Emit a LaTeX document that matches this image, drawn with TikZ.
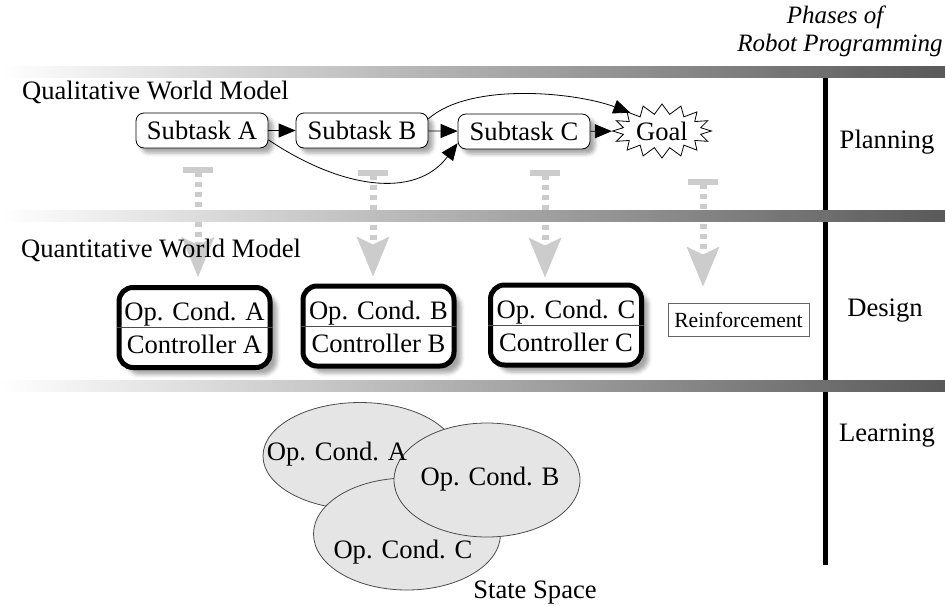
\documentclass[tikz,border=0pt]{standalone}
\usepackage{fontspec}
\setmainfont{Liberation Serif}
\usetikzlibrary{shapes,shapes.symbols,shadows.blur,arrows.meta}
\newcommand\figfont{\fontsize{13.3pt}{16pt}\selectfont}
\tikzset{subtask/.style={draw,fill=white,thin,rounded corners=4pt,minimum width=66pt,minimum height=17.5pt,inner sep=0pt,
    blur shadow={shadow xshift=2.5pt,shadow yshift=-2.5pt,shadow opacity=35}},
  opbox/.style={draw,fill=white,line width=2.5pt,rounded corners=7pt,minimum width=75.5pt,minimum height=40pt,
    blur shadow={shadow xshift=3.5pt,shadow yshift=-3.5pt,shadow opacity=35}},
  goal/.style={draw,fill=white,thin,starburst,starburst points=16,starburst point height=5pt,random starburst=0,
    inner sep=1pt,minimum width=43pt,minimum height=27pt},
  region/.style={draw=black!70,fill=gray!20,ellipse,thin},
  link/.style={thin,-{Triangle[length=8.5pt,width=7pt]}},
  refine/.style={draw=gray!40,line width=3.5pt,dash pattern=on 2.5pt off 2.5pt,
    {Bar[width=15pt,line width=3pt]}-{Stealth[length=20pt,width=16.5pt,inset=4pt,line width=0pt]}},
  phasebar/.style={shading=axis,left color=white,right color=black!65}}

\begin{document}
\begin{tikzpicture}[x=0.5pt,y=-0.5pt,font=\figfont]
\useasboundingbox (0,0) rectangle (945,605);
\draw[line width=2.5pt] (825,70) -- (825,565);

\node[subtask] (subA) at (202,130.5) {Subtask A};
\node[subtask] (subB) at (362,130.5) {Subtask B};
\node[subtask] (subC) at (524,131.5) {Subtask C};
\node[goal] (goal) at (662,131) {Goal};
\draw[link] (subA) -- (subB);
\draw[link] (subB) -- (subC);
\draw[link] (subC) -- (goal);
\draw[link] (subA.-8) .. controls (340,188) and (415,200) .. (subC.-170);
\draw[link] (subB.10) .. controls (470,82) and (575,92) .. (goal.150);

\node[opbox] (opA) at (194.5,327.5) {};
\node[opbox] (opB) at (378.5,326) {};
\node[opbox] (opC) at (566,325) {};
\foreach \n/\l in {opA/A,opB/B,opC/C}{
  \draw[thin,black!70] (\n.west) -- (\n.east);
  \node[anchor=base] at ([yshift=3.5pt]\n.center) {Op. Cond. \l};
  \node[anchor=base] at ([yshift=-13pt]\n.center) {Controller \l};
}
\node[draw=black!60,thin,minimum width=70.5pt,minimum height=16.5pt,inner sep=0pt,
  font=\fontsize{10.8pt}{13pt}\selectfont] (reinf) at (738.5,319.5) {Reinforcement};

\coordinate (tA) at (198,167);
\coordinate (tB) at (373,170);
\coordinate (tC) at (545,170);
\coordinate (tR) at (703,179);
\draw[refine,shorten >=4pt] (tA) -- (tA |- opA.north);
\draw[refine,shorten >=3.5pt] (tB) -- (tB |- opB.north);
\draw[refine,shorten >=2.5pt] (tC) -- (tC |- opC.north);
\draw[refine,shorten >=8pt] (tR) -- (tR |- reinf.north);

\node[font=\fontsize{12.5pt}{15pt}\selectfont\itshape,anchor=base] (phases) at (835,24) {Phases of};
\node[font=\fontsize{12.5pt}{15pt}\selectfont\itshape,anchor=base] (robprog) at (840,51) {Robot Programming};
\node[anchor=base west] (qual) at (15,99) {Qualitative World Model};
\node[anchor=base west] (quant) at (14,257) {Quantitative World Model};
\node[anchor=base] (plan) at (887,148) {Planning};
\node[anchor=base] (design) at (885,316) {Design};
\node[anchor=base] (learn) at (887,441) {Learning};

\node[region,minimum width=97pt,minimum height=53.5pt] (regA) at (360,456) {};
\node[region,minimum width=93.5pt,minimum height=56pt] (regC) at (407,534) {};
\node[region,minimum width=93pt,minimum height=57pt] (regB) at (487,480) {};
\node[anchor=base] at (337,460) {Op. Cond. A};
\node[anchor=base] at (490,485) {Op. Cond. B};
\node[anchor=base] at (403,558) {Op. Cond. C};
\node[anchor=base] (space) at (535,598) {State Space};

\shade[phasebar] (0,66) rectangle (945,77);
\shade[phasebar] (0,210) rectangle (945,221);
\shade[phasebar] (0,380) rectangle (945,391);
\end{tikzpicture}
\end{document}
